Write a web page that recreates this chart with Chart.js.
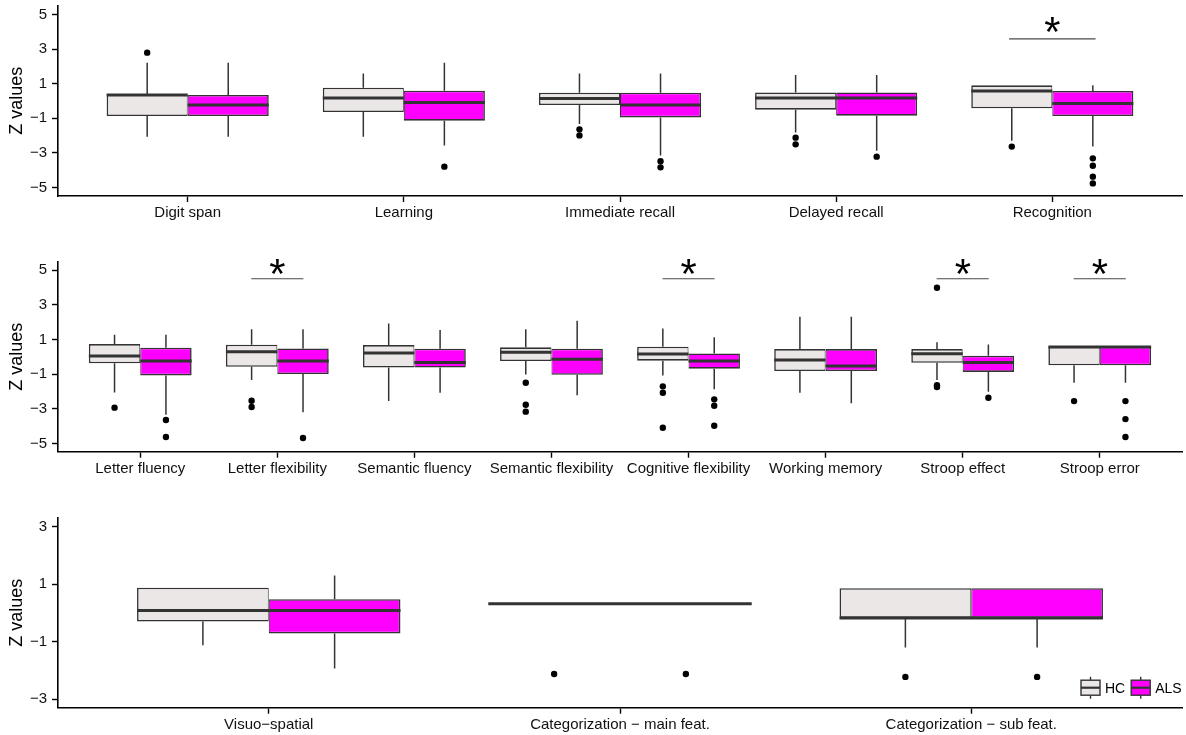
<!DOCTYPE html>
<html><head><meta charset="utf-8">
<script src="https://cdn.jsdelivr.net/npm/chart.js@4.4.1/dist/chart.umd.min.js"></script>
<style>
html,body{margin:0;padding:0;background:#fff;overflow:hidden;}
#wrap{position:relative;width:1186px;height:735px;overflow:hidden;}
canvas{position:absolute;left:0;}
</style></head><body>
<div id="wrap">
<canvas id="c1" width="1186" height="257" style="top:-12px"></canvas>
<canvas id="c2" width="1186" height="257" style="top:233px"></canvas>
<canvas id="c3" width="1186" height="257" style="top:478px"></canvas>
</div>
<script>
// ---------------- DATA ----------------
const groups = ['HC', 'ALS'];
// each box: [lower whisker, Q1, median, Q3, upper whisker]
const p1Categories = ['Digit span', 'Learning', 'Immediate recall', 'Delayed recall', 'Recognition'];
const p1HC = [
  [-2.07, -0.87, 0.35, 0.38, 2.22],
  [-2.07, -0.64, 0.17, 0.77, 1.60],
  [-1.33, -0.23, 0.14, 0.48, 1.60],
  [-1.83, -0.50, 0.17, 0.50, 1.50],
  [-2.30, -0.42, 0.58, 0.91, 0.91]
];
const p1ALS = [
  [-2.07, -0.87, -0.23, 0.35, 2.22],
  [-2.57, -1.14, -0.08, 0.60, 2.22],
  [-3.15, -0.95, -0.23, 0.48, 1.60],
  [-2.88, -0.85, 0.17, 0.50, 1.50],
  [-2.64, -0.87, -0.15, 0.58, 0.91]
];
const p1HCOutliers = [[2.8], [], [-1.64, -1.99], [-2.12, -2.51], [-2.64]];
const p1ALSOutliers = [[], [-3.8], [-3.49, -3.84], [-3.22], [-3.32, -3.75, -4.38, -4.77]];
const p1Significant = ['Recognition'];
const p1YTicks = [-5, -3, -1, 1, 3, 5];

const p2Categories = ['Letter fluency', 'Letter flexibility', 'Semantic fluency', 'Semantic flexibility',
  'Cognitive flexibility', 'Working memory', 'Stroop effect', 'Stroop error'];
const p2HC = [
  [-2.06, -0.38, 0.04, 0.73, 1.27],
  [-1.35, -0.58, 0.29, 0.69, 1.58],
  [-2.56, -0.63, 0.21, 0.67, 1.92],
  [-1.02, -0.25, 0.25, 0.54, 1.58],
  [-1.08, -0.23, 0.15, 0.58, 1.63],
  [-2.08, -0.83, -0.19, 0.44, 2.31],
  [-1.35, -0.35, 0.17, 0.44, 0.83],
  [-1.50, -0.50, 0.56, 0.58, 0.58]
];
const p2ALS = [
  [-3.35, -1.08, -0.25, 0.52, 1.27],
  [-3.21, -1.00, -0.25, 0.48, 1.58],
  [-2.08, -0.63, -0.33, 0.46, 1.54],
  [-2.23, -1.04, -0.15, 0.46, 2.08],
  [-1.88, -0.69, -0.25, 0.19, 1.12],
  [-2.69, -0.83, -0.54, 0.44, 2.31],
  [-2.02, -0.88, -0.33, 0.06, 0.71],
  [-1.50, -0.50, 0.56, 0.58, 0.58]
];
const p2HCOutliers = [[-2.94], [-2.54, -2.9], [], [-1.5, -2.77, -3.17], [-1.71, -2.08, -4.1], [], [3.98, -1.65, -1.75], [-2.56]];
const p2ALSOutliers = [[-3.65, -4.63], [-4.69], [], [], [-2.46, -2.83, -3.98], [], [-2.37], [-2.56, -3.6, -4.63]];
const p2Significant = ['Letter flexibility', 'Cognitive flexibility', 'Stroop effect', 'Stroop error'];
const p2YTicks = [-5, -3, -1, 1, 3, 5];

const p3Categories = ['Visuo\u2212spatial', 'Categorization \u2212 main feat.', 'Categorization \u2212 sub feat.'];
const p3HC = [
  [-1.12, -0.30, 0.09, 0.88, 0.88],
  [0.32, 0.32, 0.32, 0.32, 0.32],
  [-1.20, -0.17, -0.17, 0.86, 0.86]
];
const p3ALS = [
  [-1.93, -0.71, 0.09, 0.48, 1.30],
  [0.32, 0.32, 0.32, 0.32, 0.32],
  [-1.20, -0.17, -0.17, 0.86, 0.86]
];
const p3HCOutliers = [[], [-2.12], [-2.22]];
const p3ALSOutliers = [[], [-2.12], [-2.22]];
const p3Significant = [];
const p3YTicks = [-3, -1, 1, 3];

// ---------------- STYLE ----------------
Chart.defaults.font.family = '"Liberation Sans", Arial, Helvetica, sans-serif';
Chart.defaults.color = '#000';
const FILLS = ['#ebe7e6', '#ff00ff'];
const LINE = '#333333';
const CAT_PCT = 0.75;
const HALF = CAT_PCT / 4;   // half of one box width (category units)

const starPlugin = {
  id: 'stars',
  afterDatasetsDraw(chart, args, opts) {
    if (!opts.cats || !opts.cats.length) return;
    const {ctx, scales: {x, y}} = chart;
    ctx.save();
    const fam = '"Liberation Sans", Arial, sans-serif';
    ctx.font = '100px ' + fam;
    let m = ctx.measureText('*');
    const fs = 100 * 15 / (m.actualBoundingBoxAscent + m.actualBoundingBoxDescent);
    ctx.font = fs + 'px ' + fam;
    m = ctx.measureText('*');
    ctx.fillStyle = '#000';
    ctx.textAlign = 'left';
    ctx.textBaseline = 'alphabetic';
    const w = m.actualBoundingBoxRight + m.actualBoundingBoxLeft;
    opts.cats.forEach(v => {
      const px = x.getPixelForValue(v), py = y.getPixelForValue(opts.y);
      const base = py - (m.actualBoundingBoxDescent - m.actualBoundingBoxAscent) / 2;
      ctx.fillText('*', px - w / 2 + m.actualBoundingBoxLeft, base);
    });
    ctx.restore();
  }
};

const legendPlugin = {
  id: 'boxLegend',
  afterDraw(chart, args, opts) {
    if (!opts.items) return;
    const {ctx, chartArea} = chart;
    const cy = chartArea.bottom - 20;
    let x = chartArea.right - 101;
    ctx.save();
    ctx.font = '14px "Liberation Sans", Arial, sans-serif';
    ctx.textBaseline = 'middle';
    opts.items.forEach((label, g) => {
      const w = 19, h = 15, top = cy - h / 2;
      ctx.fillStyle = FILLS[g];
      ctx.fillRect(x, top, w, h);
      ctx.strokeStyle = LINE; ctx.lineWidth = 1.4;
      ctx.strokeRect(x, top, w, h);
      ctx.beginPath();
      ctx.moveTo(x + w / 2, top - 3.5); ctx.lineTo(x + w / 2, top);
      ctx.moveTo(x + w / 2, top + h); ctx.lineTo(x + w / 2, top + h + 3.5);
      ctx.stroke();
      ctx.lineWidth = 2.2;
      ctx.beginPath(); ctx.moveTo(x, cy); ctx.lineTo(x + w, cy); ctx.stroke();
      ctx.fillStyle = '#000';
      ctx.fillText(label, x + w + 5, cy + 1);
      x += w + 5 + ctx.measureText(label).width + 6;
    });
    ctx.restore();
  }
};

function makePanel(cfg) {
  const n = cfg.cats.length;
  const offs = [-HALF, HALF];
  const stats = [cfg.hc, cfg.als];
  const outs = [cfg.hcOut, cfg.alsOut];
  const whisk = [], med = [], pts = [], sig = [];
  stats.forEach((S, g) => S.forEach((s, i) => {
    const x = i + 1 + offs[g];
    whisk.push({x, y: s[3]}, {x, y: s[4]}, {x, y: null}, {x, y: s[1]}, {x, y: s[0]}, {x, y: null});
    med.push({x: x - HALF, y: s[2]}, {x: x + HALF, y: s[2]}, {x, y: null});
  }));
  outs.forEach((O, g) => O.forEach((arr, i) => arr.forEach(v => pts.push({x: i + 1 + offs[g], y: v}))));
  const sigIdx = cfg.sig.map(c => cfg.cats.indexOf(c) + 1);
  sigIdx.forEach(c => sig.push({x: c - cfg.sigHalf, y: cfg.sigY}, {x: c + cfg.sigHalf, y: cfg.sigY}, {x: c, y: null}));

  const boxDs = (g) => ({
    type: 'bar', label: groups[g],
    data: stats[g].map((s, i) => ({x: i + 1, y: [s[1], s[3]]})),
    backgroundColor: FILLS[g], borderColor: LINE,
    borderWidth: g === 0 ? {top: 1.6, bottom: 1.6, left: 1.6, right: 1} : {top: 1.6, bottom: 1.6, left: 1, right: 1.6},
    borderSkipped: false, categoryPercentage: CAT_PCT, barPercentage: 1, order: 5
  });
  const lineDs = (data, width, color, order) => ({
    type: 'line', data, borderColor: color, borderWidth: width, pointRadius: 0, pointHoverRadius: 0,
    fill: false, spanGaps: false, tension: 0, borderCapStyle: 'butt', order
  });

  new Chart(document.getElementById(cfg.id), {
    type: 'bar',
    data: {
      datasets: [
        boxDs(0), boxDs(1),
        lineDs(whisk, 1.5, LINE, 4),
        lineDs(med, 3, '#333333', 3),
        {type: 'line', data: pts, showLine: false, pointRadius: 3.2, pointHoverRadius: 3.2,
         pointBackgroundColor: '#000', pointBorderColor: '#000', pointBorderWidth: 0, order: 2},
        lineDs(sig, 1.1, '#4a4a4a', 1)
      ]
    },
    options: {
      responsive: false, animation: false, events: [],
      layout: {padding: {top: cfg.padTop, right: 4, left: 0, bottom: 0}},
      plugins: {legend: {display: false}, tooltip: {enabled: false},
        stars: {cats: sigIdx, y: cfg.starY}, boxLegend: {items: cfg.legend}},
      scales: {
        x: {
          type: 'linear', min: 0.4, max: n + 0.6, offset: false, bounds: 'data',
          afterBuildTicks: s => { s.ticks = cfg.cats.map((c, i) => ({value: i + 1})); },
          afterFit: s => { s.height = cfg.xH; },
          grid: {display: true, drawOnChartArea: false, drawTicks: true, tickLength: 6, tickColor: '#000', tickWidth: 1.4, offset: false},
          border: {display: true, color: '#000', width: 1.6},
          ticks: {autoSkip: false, maxRotation: 0, minRotation: 0, padding: 2, font: {size: 15}, color: '#111',
            callback: (v, i) => cfg.cats[i]}
        },
        y: {
          type: 'linear', min: cfg.yMin, max: cfg.yMax,
          afterBuildTicks: s => { s.ticks = cfg.yTicks.map(v => ({value: v})); },
          afterFit: s => { s.width = 58; },
          grid: {display: true, drawOnChartArea: false, drawTicks: true, tickLength: 6, tickColor: '#000', tickWidth: 1.4},
          border: {display: true, color: '#000', width: 1.6},
          ticks: {padding: 5, font: {size: 15}, color: '#111',
            callback: v => (v < 0 ? '\u2212' : '') + Math.abs(v)},
          title: {display: true, text: 'Z values', font: {size: 18}, color: '#000', padding: {top: 6, bottom: 0}}
        }
      }
    },
    plugins: [starPlugin, legendPlugin]
  });
}

makePanel({id: 'c1', cats: p1Categories, hc: p1HC, als: p1ALS, hcOut: p1HCOutliers, alsOut: p1ALSOutliers,
  sig: p1Significant, yTicks: p1YTicks, yMin: -5.5, yMax: 5.52, sigY: 3.6, starY: 4.46, sigHalf: 0.2,
  padTop: 17.7, xH: 49, legend: null});
makePanel({id: 'c2', cats: p2Categories, hc: p2HC, als: p2ALS, hcOut: p2HCOutliers, alsOut: p2ALSOutliers,
  sig: p2Significant, yTicks: p2YTicks, yMin: -5.48, yMax: 5.48, sigY: 4.5, starY: 5.23, sigHalf: 0.19,
  padTop: 28.7, xH: 38.3, legend: null});
makePanel({id: 'c3', cats: p3Categories, hc: p3HC, als: p3ALS, hcOut: p3HCOutliers, alsOut: p3ALSOutliers,
  sig: p3Significant, yTicks: p3YTicks, yMin: -3.29, yMax: 3.31, sigY: 0, starY: 0, sigHalf: 0.2,
  padTop: 39.7, xH: 27.3, legend: groups});
</script>
</body></html>
